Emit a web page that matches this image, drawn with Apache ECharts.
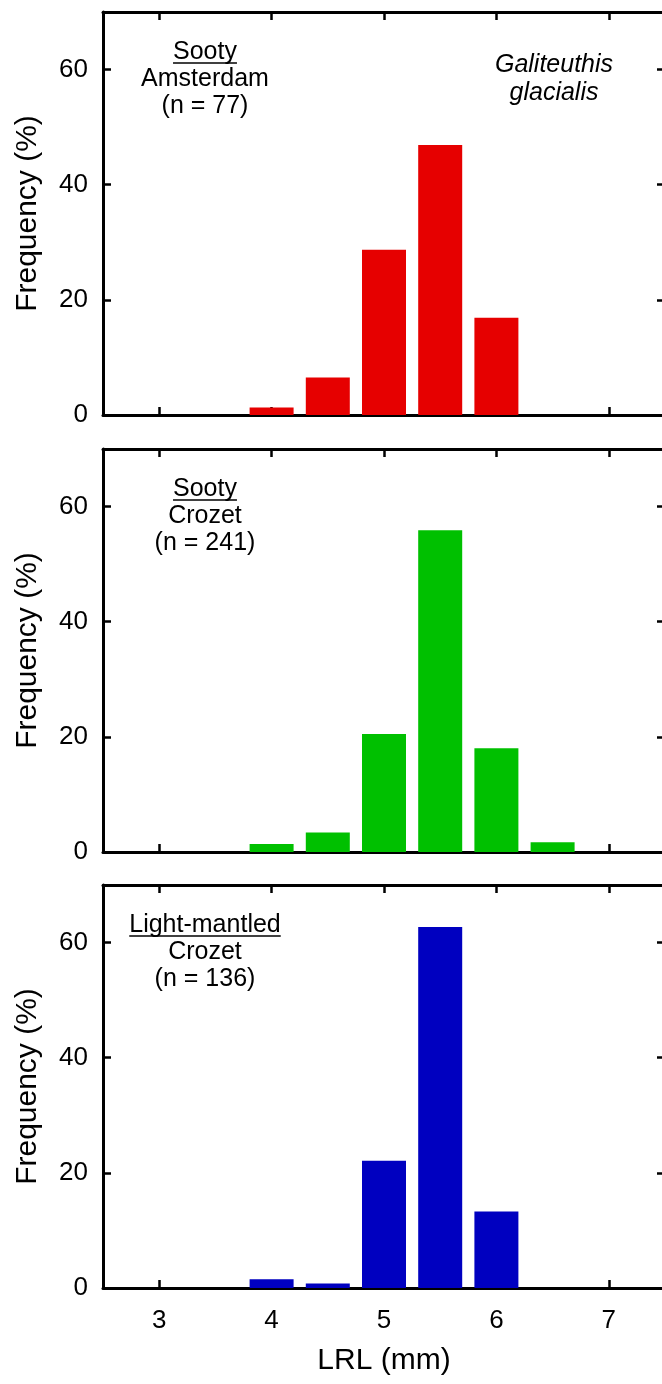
<!DOCTYPE html>
<html>
<head>
<meta charset="utf-8">
<script src="https://cdn.jsdelivr.net/npm/echarts@6/dist/echarts.min.js"></script>
<style>
html,body{margin:0;padding:0;background:#fff;}
#c{width:662px;height:1384px;}
</style>
</head>
<body>
<div id="c"></div>
<script>
// Data
const binCenters = [4.0, 4.5, 5.0, 5.5, 6.0, 6.5];
const sootyAmsterdam = [1.3, 6.5, 28.7, 46.9, 16.9, 0];
const sootyCrozet = [1.4, 3.4, 20.5, 55.9, 18.0, 1.7];
const lightMantledCrozet = [1.5, 0.8, 22.1, 62.7, 13.3, 0];
const xTicks = [3, 4, 5, 6, 7];
const yTicks = [0, 20, 40, 60];
const panelColors = ['#E60000', '#00C000', '#0000C0'];
const panelSeries = [sootyAmsterdam, sootyCrozet, lightMantledCrozet];
const panelLabels = [
  ['Sooty', 'Amsterdam', '(n = 77)'],
  ['Sooty', 'Crozet', '(n = 241)'],
  ['Light-mantled', 'Crozet', '(n = 136)']
];
const speciesLabel = ['Galiteuthis', 'glacialis'];

const FONT = '"Liberation Sans", Arial, sans-serif';
const chart = echarts.init(document.getElementById('c'), null, {renderer: 'canvas'});

const measureCtx = document.createElement('canvas').getContext('2d');
function textWidth(t, font) { measureCtx.font = font; return measureCtx.measureText(t).width; }

const gridTops = [12, 449, 885];
const gridH = 403;
const gridLeft = 103;
const gridW = 562;
const ANN_FONT = '25px ' + FONT;

const axisLine = {show: true, onZero: false, lineStyle: {color: '#000', width: 3}};
const tickStyle = {lineStyle: {color: '#000', width: 2.5}};

const grids = [], xAxes = [], yAxes = [], series = [], graphics = [];
gridTops.forEach((top, i) => {
  grids.push({left: gridLeft, top: top, width: gridW, height: gridH, containLabel: false, outerBoundsMode: 'none'});
  const last = i === 2;
  xAxes.push({
    type: 'value', gridIndex: i, position: 'bottom', min: 2.5, max: 7.5,
    axisLine: axisLine,
    axisTick: {show: true, inside: true, length: 8, customValues: xTicks, ...tickStyle},
    axisLabel: {show: last, customValues: xTicks, color: '#000', fontSize: 26, fontFamily: FONT, margin: 20},
    splitLine: {show: false},
    name: last ? 'LRL (mm)' : '', nameLocation: 'middle', nameGap: 58,
    nameTextStyle: {color: '#000', fontSize: 30, fontFamily: FONT}
  });
  xAxes.push({
    type: 'value', gridIndex: i, position: 'top', min: 2.5, max: 7.5,
    axisLine: axisLine,
    axisTick: {show: true, inside: true, length: 8, customValues: xTicks, ...tickStyle},
    axisLabel: {show: false}, splitLine: {show: false}
  });
  yAxes.push({
    type: 'value', gridIndex: i, position: 'left', min: 0, max: 70,
    axisLine: axisLine,
    axisTick: {show: true, inside: true, length: 8, customValues: yTicks, ...tickStyle},
    axisLabel: {show: true, customValues: yTicks, color: '#000', fontSize: 26, fontFamily: FONT, margin: 15},
    splitLine: {show: false},
    name: 'Frequency (%)', nameLocation: 'middle', nameRotate: 90, nameGap: 60,
    nameTextStyle: {color: '#000', fontSize: 30, fontFamily: FONT}
  });
  yAxes.push({
    type: 'value', gridIndex: i, position: 'right', min: 0, max: 70,
    axisLine: axisLine,
    axisTick: {show: true, inside: true, length: 8, customValues: yTicks, ...tickStyle},
    axisLabel: {show: false}, splitLine: {show: false}
  });
  series.push({
    type: 'bar', xAxisIndex: i * 2, yAxisIndex: i * 2,
    barWidth: 44,
    itemStyle: {color: panelColors[i]},
    data: binCenters.map((x, k) => [x, panelSeries[i][k]]),
    silent: true, animation: false
  });
  const lab = panelLabels[i];
  const cx = 205;
  const y0 = top + 40;
  lab.forEach((t, k) => {
    graphics.push({
      type: 'text', x: cx, y: y0 + k * 27,
      style: {text: t, fill: '#000', font: ANN_FONT, textAlign: 'center', textVerticalAlign: 'middle'}
    });
  });
  const w = textWidth(lab[0], ANN_FONT);
  graphics.push({
    type: 'line', shape: {x1: cx - w / 2, y1: y0 + 11, x2: cx + w / 2, y2: y0 + 11},
    style: {stroke: '#000', lineWidth: 1.5}
  });
});
speciesLabel.forEach((t, k) => {
  graphics.push({
    type: 'text', x: 554, y: 65 + k * 28,
    style: {text: t, fill: '#000', font: 'italic ' + ANN_FONT, textAlign: 'center', textVerticalAlign: 'middle'}
  });
});

chart.setOption({
  animation: false,
  backgroundColor: '#fff',
  grid: grids,
  xAxis: xAxes,
  yAxis: yAxes,
  series: series,
  graphic: graphics
});
</script>
</body>
</html>
